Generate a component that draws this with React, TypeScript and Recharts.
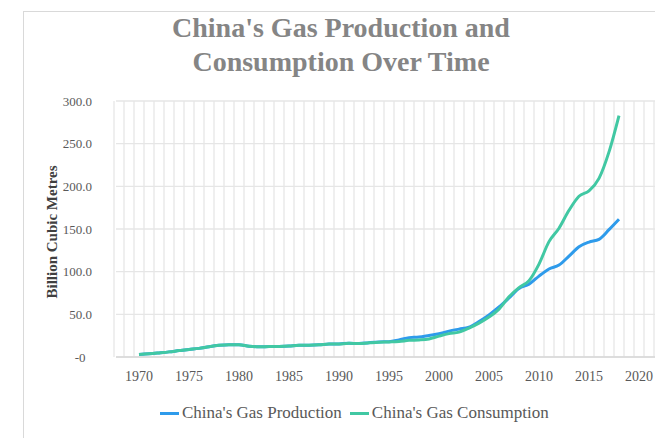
import React from 'react';
import {
  LineChart,
  Line,
  XAxis,
  YAxis,
  CartesianGrid,
} from 'recharts';

// years and values (billion cubic metres)
const years = [
  1970, 1971, 1972, 1973, 1974, 1975, 1976, 1977, 1978, 1979,
  1980, 1981, 1982, 1983, 1984, 1985, 1986, 1987, 1988, 1989,
  1990, 1991, 1992, 1993, 1994, 1995, 1996, 1997, 1998, 1999,
  2000, 2001, 2002, 2003, 2004, 2005, 2006, 2007, 2008, 2009,
  2010, 2011, 2012, 2013, 2014, 2015, 2016, 2017, 2018,
];

const production = [
  2.9, 3.7, 4.8, 6.0, 7.5, 8.9, 10.1, 12.1, 13.7, 14.5,
  14.3, 12.7, 11.9, 12.2, 12.4, 12.9, 13.8, 13.9, 14.3, 15.1,
  15.3, 16.1, 15.8, 16.8, 17.6, 17.9, 20.1, 22.7, 23.3, 25.2,
  27.2, 30.3, 32.7, 35.0, 41.5, 49.3, 58.6, 69.2, 80.3, 85.3,
  94.8, 103.1, 107.7, 118.2, 129.2, 134.7, 137.9, 149.2, 161.4,
];

const consumption = [
  2.9, 3.7, 4.8, 6.0, 7.5, 8.9, 10.1, 12.1, 13.7, 14.5,
  14.3, 12.7, 11.9, 12.2, 12.4, 12.9, 13.8, 13.9, 14.3, 15.1,
  15.3, 16.0, 15.7, 16.6, 17.4, 17.7, 18.2, 19.5, 20.0, 21.2,
  24.5, 27.4, 29.2, 33.9, 39.7, 46.8, 56.1, 70.5, 81.3, 89.5,
  108.9, 135.2, 150.9, 171.9, 188.4, 194.7, 209.4, 240.4, 283.0,
];

const xTicks = [1970, 1975, 1980, 1985, 1990, 1995, 2000, 2005, 2010, 2015, 2020];
const yTicks = [0, 50, 100, 150, 200, 250, 300];
const X_DOMAIN: [number, number] = [1967.7, 2022.5];
// vertical gridlines sit between the year categories
const gridYears = Array.from({ length: 56 }, (_, i) => 1967.5 + i);

const PROD_COLOR = '#2E9BEB';
const CONS_COLOR = '#41C8A3';
const FONT = '"Liberation Serif", "Times New Roman", serif';

const chartData = years.map((year, i) => ({
  year,
  production: production[i],
  consumption: consumption[i],
}));

const legendItems = [
  { label: "China's Gas Production", color: PROD_COLOR },
  { label: "China's Gas Consumption", color: CONS_COLOR },
];

export default function App() {
  return (
    <div style={{ position: 'absolute', left: 0, top: 0, width: 655, height: 438, overflow: 'hidden', background: '#fff' }}>
      <div
        style={{
          position: 'absolute',
          left: 23,
          top: 11,
          width: 700,
          height: 500,
          border: '1px solid #d9d9d9',
        }}
      />
      <div
        style={{
          position: 'absolute',
          left: 23,
          top: 11,
          width: 636,
          textAlign: 'center',
          fontFamily: FONT,
          fontWeight: 'bold',
          fontSize: 28,
          lineHeight: '34px',
          color: '#858585',
        }}
      >
        China's Gas Production and
        <br />
        Consumption Over Time
      </div>
      <div
        style={{
          position: 'absolute',
          left: 52,
          top: 232,
          transform: 'translate(-50%, -50%) rotate(-90deg)',
          whiteSpace: 'nowrap',
          fontFamily: FONT,
          fontWeight: 'bold',
          fontSize: 15,
          color: '#404040',
        }}
      >
        Billion Cubic Metres
      </div>
      <div style={{ position: 'absolute', left: 0, top: 0 }}>
        <LineChart
          width={700}
          height={438}
          data={chartData}
          margin={{ top: 101, right: 36, left: 56, bottom: 51 }}
        >
          <CartesianGrid
            stroke="#e6e6e6"
            strokeWidth={1.3}
            verticalCoordinatesGenerator={({ offset }: any) =>
              gridYears.map(
                (y) =>
                  offset.left +
                  ((y - X_DOMAIN[0]) / (X_DOMAIN[1] - X_DOMAIN[0])) * offset.width
              )
            }
          />
          <XAxis
            dataKey="year"
            type="number"
            domain={X_DOMAIN}
            ticks={xTicks}
            allowDataOverflow
            tickLine={false}
            axisLine={{ stroke: '#d9d9d9', strokeWidth: 1.3 }}
            height={30}
            tick={{ fill: '#595959', fontSize: 14, fontFamily: FONT }}
            tickMargin={8}
          />
          <YAxis
            type="number"
            domain={[0, 300]}
            ticks={yTicks}
            width={60}
            tickLine={false}
            axisLine={false}
            tick={{ fill: '#595959', fontSize: 13, fontFamily: FONT }}
            tickFormatter={(v: number) => (v === 0 ? '-0\u00a0\u00a0' : v.toFixed(1))}
            tickMargin={18}
          />
          <Line
            type="monotone"
            dataKey="production"
            name="China's Gas Production"
            stroke={PROD_COLOR}
            strokeWidth={3}
            dot={false}
            isAnimationActive={false}
          />
          <Line
            type="monotone"
            dataKey="consumption"
            name="China's Gas Consumption"
            stroke={CONS_COLOR}
            strokeWidth={3}
            dot={false}
            isAnimationActive={false}
          />
        </LineChart>
      </div>
      <div
        style={{
          position: 'absolute',
          left: 160,
          top: 402,
          display: 'flex',
          alignItems: 'center',
          fontFamily: FONT,
          fontSize: 17,
          lineHeight: '22px',
          color: '#595959',
          whiteSpace: 'nowrap',
        }}
      >
        {legendItems.map((it) => (
          <div key={it.label} style={{ display: 'flex', alignItems: 'center', marginRight: 8 }}>
            <span style={{ display: 'inline-block', width: 19, height: 3, background: it.color, marginRight: 3 }} />
            <span>{it.label}</span>
          </div>
        ))}
      </div>
    </div>
  );
}
